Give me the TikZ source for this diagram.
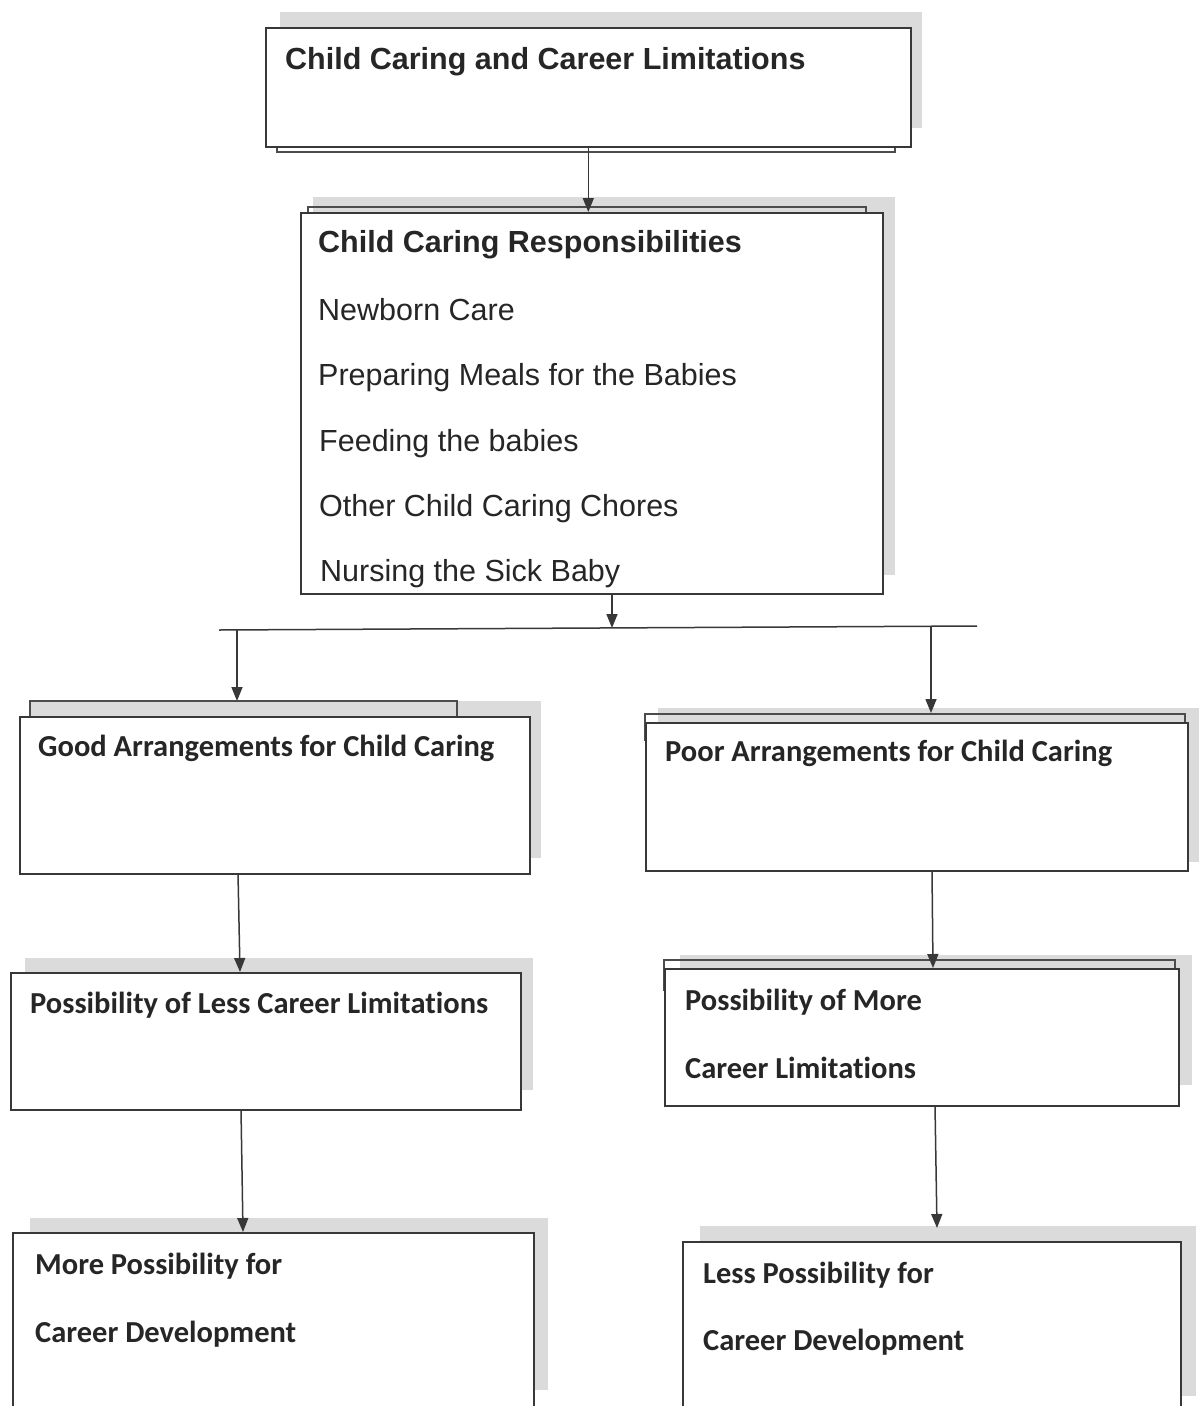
\documentclass[tikz,border=0pt]{standalone}
\usepackage{fontspec}
\setmainfont{Liberation Sans}
\newfontfamily\calfont[Ligatures=NoCommon]{Carlito}
\usetikzlibrary{arrows.meta}
\tikzset{
  shadowfill/.style={fill=gray!28, draw=none},
  frame/.style={draw=black!78, line width=1.6pt, fill=white, inner sep=0pt, anchor=north west},
  backframe/.style={draw=black!70, line width=1.4pt},
  conn/.style={draw=black!78, line width=1.5pt, -{Triangle[length=14pt,width=11pt]}},
  busline/.style={draw=black!78, line width=1.5pt},
  txt/.style={anchor=base west, inner sep=0pt, text=black!85, font=\fontsize{30.5}{36}\selectfont},
  ctxt/.style={anchor=base west, inner sep=0pt, text=black!85, font=\calfont\bfseries\fontsize{30.5}{36}\selectfont},
}
\begin{document}
\begin{tikzpicture}[x=1pt,y=-1pt]
\clip (0,0) rectangle (1199,1406);
\useasboundingbox (0,0) rectangle (1199,1406);
\fill[white] (0,0) rectangle (1199,1406);

% ---- shadows ----
\fill[shadowfill] (280,12) rectangle (922,128);
\fill[shadowfill] (313,197) rectangle (895,575);
\fill[shadowfill] (30,701) rectangle (541,858);
\fill[shadowfill] (658,708) rectangle (1199,862);
\fill[shadowfill] (25,958) rectangle (533,1090);
\fill[shadowfill] (680,955) rectangle (1192,1085);
\fill[shadowfill] (30,1218) rectangle (548,1390);
\fill[shadowfill] (700,1226) rectangle (1196,1396);

% ---- back frames ----
\draw[backframe] (277,130) rectangle (895,152);
\draw[backframe] (308,207) rectangle (866,240);
\draw[backframe] (30,701) rectangle (457,740);
\draw[backframe] (645,714) rectangle (1185,740);
\draw[backframe] (664,960) rectangle (1175,990);

% ---- main boxes ----
\node[frame, minimum width=645pt, minimum height=119pt] (b1) at (265,27) {};
\node[frame, minimum width=582pt, minimum height=381pt] (b2) at (300,212) {};
\node[frame, minimum width=510pt, minimum height=157pt] (b3) at (19,716) {};
\node[frame, minimum width=542pt, minimum height=148pt] (b4) at (645,722) {};
\node[frame, minimum width=510pt, minimum height=137pt] (b5) at (10,972) {};
\node[frame, minimum width=514pt, minimum height=137pt] (b6) at (664,968) {};
\node[frame, minimum width=521pt, minimum height=200pt] (b7) at (12,1232) {};
\node[frame, minimum width=498pt, minimum height=200pt] (b8) at (682,1241) {};

% ---- texts ----
\node[txt, font=\bfseries\fontsize{30.5}{36}\selectfont] (t1) at (285,69) {Child Caring and Career Limitations};
\node[txt, font=\bfseries\fontsize{30.5}{36}\selectfont] (t2) at (318,252) {Child Caring Responsibilities};
\node[txt] (t2a) at (318,320) {Newborn Care};
\node[txt] (t2b) at (318,385) {Preparing Meals for the Babies};
\node[txt] (t2c) at (319,451) {Feeding the babies};
\node[txt] (t2d) at (319,516) {Other Child Caring Chores};
\node[txt] (t2e) at (320,581) {Nursing the Sick Baby};
\node[ctxt] (t3) at (38,756) {Good Arrangements for Child Caring};
\node[ctxt] (t4) at (665,761) {Poor Arrangements for Child Caring};
\node[ctxt] (t5) at (30,1013) {Possibility of Less Career Limitations};
\node[ctxt] (t6a) at (685,1010) {Possibility of More};
\node[ctxt] (t6b) at (685,1078) {Career Limitations};
\node[ctxt] (t7a) at (35,1274) {More Possibility for};
\node[ctxt] (t7b) at (35,1342) {Career Development};
\node[ctxt] (t8a) at (703,1283) {Less Possibility for};
\node[ctxt] (t8b) at (703,1350) {Career Development};

% ---- connectors ----
\coordinate (busL) at (219,630);
\coordinate (busR) at (977,626);
\coordinate (busM) at (612,628);
\coordinate (dropL) at (237,629.5);
\coordinate (dropR) at (931,626.5);
\coordinate (in3) at (237,701);
\coordinate (in4) at (931,713);
\coordinate (out3) at (238,873);
\coordinate (in5) at (240,972);
\coordinate (out4) at (932,870);
\coordinate (in6) at (933,968);
\coordinate (out5) at (241,1109);
\coordinate (in7) at (243,1232);
\coordinate (out6) at (935,1105);
\coordinate (in8) at (937,1228);

\draw[conn] (b1.south) -- (b1.south |- b2.north);
\draw[conn] (b2.south -| busM) -- (busM);
\draw[busline] (busL) -- (busR);
\draw[conn] (dropL) -- (in3);
\draw[conn] (dropR) -- (in4);
\draw[conn] (out3) -- (in5);
\draw[conn] (out4) -- (in6);
\draw[conn] (out5) -- (in7);
\draw[conn] (out6) -- (in8);
\end{tikzpicture}
\end{document}
